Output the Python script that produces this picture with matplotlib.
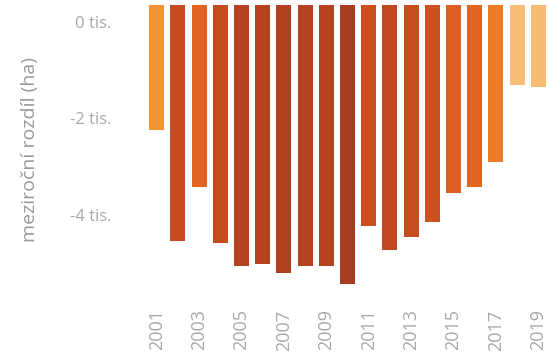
import matplotlib
matplotlib.use("Agg")
import matplotlib.pyplot as plt
from matplotlib.colors import LinearSegmentedColormap, Normalize
from matplotlib.transforms import ScaledTranslation

years = list(range(2001, 2020))
values = [-2590, -4890, -3770, -4930, -5410, -5370, -5550, -5410, -5410, -5780,
          -4580, -5080, -4810, -4500, -3900, -3770, -3250, -1660, -1700]
ytick_values = [0, -2000, -4000]
ytick_labels = ["0 tis.", "-2 tis.", "-4 tis."]
xtick_years = [y for y in years if y % 2 == 1]

plt.rcParams['font.family'] = ['Open Sans', 'DejaVu Sans']

fig = plt.figure(figsize=(5.48, 3.63), dpi=100)
ax = fig.add_axes([149/548, 1-290/363, 397/548, 285/363])

cmap = LinearSegmentedColormap.from_list(
    "oranges", ["#f8c07a", "#f39a3a", "#ef7a25", "#d4561e", "#c44a20", "#a63c20"])
norm = Normalize(vmin=1600, vmax=5800)
colors = [cmap(norm(-v)) for v in values]

x = list(range(len(years)))
ax.bar(x, values, width=0.71, color=colors)

ax.set_xlim(-0.36, 18.36)
ax.set_ylim(-5907, 0)
for s in ax.spines.values():
    s.set_visible(False)

ax.set_yticks(ytick_values)
ax.set_yticklabels(ytick_labels)
ax.tick_params(axis='y', length=0, pad=27, labelsize=12, labelcolor="#a8a8a8")
off = ScaledTranslation(0, -17/100, fig.dpi_scale_trans)
for lab in ax.get_yticklabels():
    lab.set_transform(lab.get_transform() + off)

ax.set_xticks([years.index(y) for y in xtick_years])
ax.set_xticklabels([str(y) for y in xtick_years], rotation=90, va='top', ha='center')
ax.tick_params(axis='x', length=0, pad=14, labelsize=13, labelcolor="#a8a8a8")

fig.text(30/548, 1-150/363, "meziroční rozdíl (ha)", rotation=90, ha='center', va='center',
         fontsize=14, color="#999999")

fig.savefig("out.png", dpi=100, facecolor="white")
